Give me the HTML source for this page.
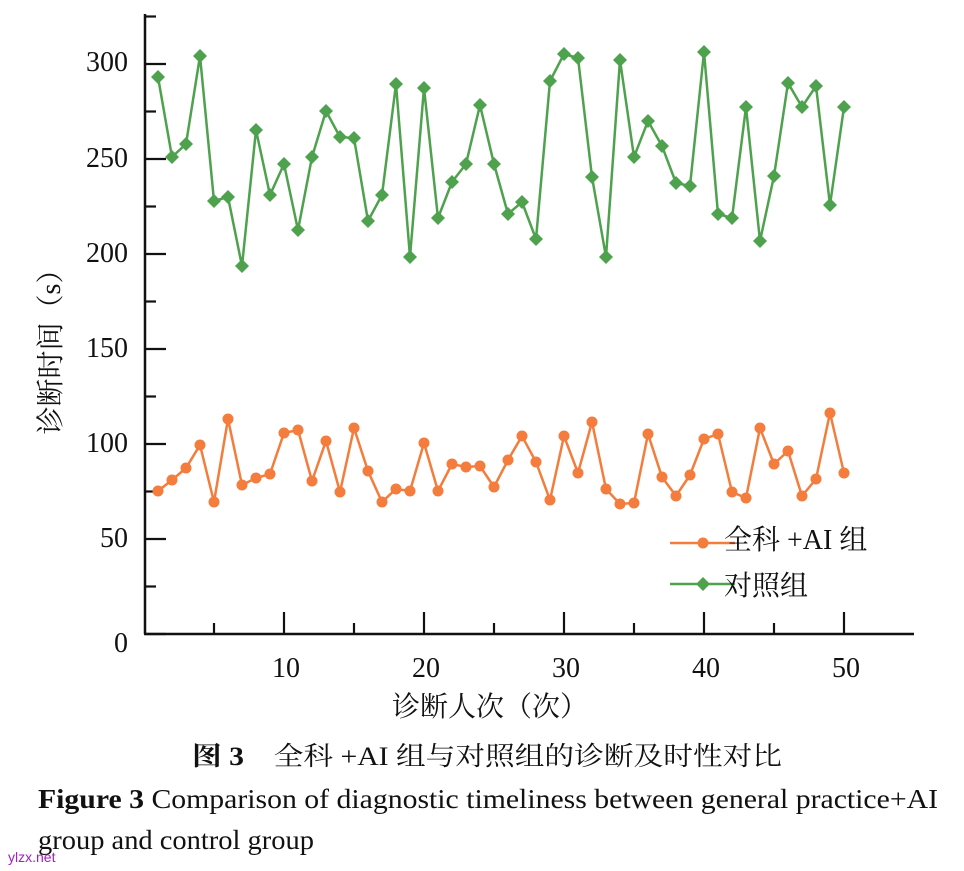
<!DOCTYPE html>
<html><head><meta charset="utf-8"><style>
body{margin:0;background:#fff;}
svg{display:block;}
text{font-family:"Liberation Serif","Noto Serif CJK SC",serif;fill:#111;}
</style></head><body>
<svg id="s" width="964" height="871" xmlns="http://www.w3.org/2000/svg">
<g stroke="#111" stroke-width="2.5" fill="none">
<line x1="145" y1="14" x2="145" y2="634"/>
<line x1="144" y1="634" x2="914" y2="634"/>
</g>
<g id="ticks" stroke="#111" stroke-width="2.2"></g>
<g font-size="28" text-anchor="end">
<text x="128" y="71">300</text><text x="128" y="167">250</text><text x="128" y="262">200</text>
<text x="128" y="357">150</text><text x="128" y="452">100</text><text x="128" y="547">50</text><text x="128" y="652">0</text>
</g>
<g font-size="28" text-anchor="middle">
<text x="286" y="677">10</text><text x="426" y="677">20</text><text x="566" y="677">30</text><text x="706" y="677">40</text><text x="846" y="677">50</text>
</g>
<text x="490" y="716" font-size="28" text-anchor="middle">诊断人次（次）</text>
<text transform="translate(60,345) rotate(-90)" font-size="28" text-anchor="middle">诊断时间（s）</text>
<g id="series"></g>
<line x1="670" y1="543" x2="735" y2="543" stroke="#f47c3c" stroke-width="2.5"/>
<circle cx="703" cy="543" r="5.5" fill="#f47c3c"/>
<text x="724" y="549" font-size="28">全科 +AI 组</text>
<line x1="670" y1="584" x2="735" y2="584" stroke="#4ea24e" stroke-width="2.5"/>
<path d="M703 577 L710 584 L703 591 L696 584Z" fill="#4ea24e"/>
<text x="724" y="595" font-size="28">对照组</text>
<text x="487" y="765" font-size="26" text-anchor="middle" textLength="590" lengthAdjust="spacingAndGlyphs"><tspan font-weight="bold">图 3</tspan>　全科 +AI 组与对照组的诊断及时性对比</text>
<text x="38" y="808" font-size="27" textLength="900" lengthAdjust="spacingAndGlyphs"><tspan font-weight="bold">Figure 3</tspan>    Comparison of diagnostic timeliness between general practice+AI</text>
<text x="38" y="849" font-size="27" textLength="276" lengthAdjust="spacingAndGlyphs">group and control group</text>
<text x="8" y="862" font-size="14" style="fill:#a020c0;font-family:'Liberation Sans',sans-serif">ylzx.net</text>
</svg>
<script>
var ns="http://www.w3.org/2000/svg",s=document.getElementById("series"),t=document.getElementById("ticks");
function el(n,a,p){var e=document.createElementNS(ns,n);for(var k in a)e.setAttribute(k,a[k]);p.appendChild(e);return e;}
for(var v=0;v<=325;v+=25){var y=634-v*1.9;if(y<15)break;el("line",{x1:145,x2:v%50==0?166:156,y1:y,y2:y},t);}
for(var i=5;i<=55;i+=5){var x=144+14*i;if(x>912)break;el("line",{x1:x,x2:x,y1:634,y2:i%10==0?612:623},t);}
var o=[491,480,468,445,502,419,485,478,474,433,430,481,441,492,428,471,502,489,491,443,491,464,467,466,487,460,436,462,500,436,473,422,489,504,503,434,477,496,475,439,434,492,498,428,464,451,496,479,413,473];
var g=[77,157,144,56,201,197,266,130,195,164,230,157,111,137,138,221,195,84,257,88,218,182,164,105,164,214,202,239,81,54,58,177,257,60,157,121,146,183,186,52,214,218,107,241,176,83,107,86,205,107];
function pts(a){return a.map(function(y,i){return (158+14*i)+","+y}).join(" ");}
el("polyline",{points:pts(o),fill:"none",stroke:"#f47c3c","stroke-width":2.5},s);
el("polyline",{points:pts(g),fill:"none",stroke:"#4ea24e","stroke-width":2.5},s);
o.forEach(function(y,i){el("circle",{cx:158+14*i,cy:y,r:5.5,fill:"#f47c3c"},s);});
g.forEach(function(y,i){var x=158+14*i;el("path",{d:"M"+x+" "+(y-7)+" L"+(x+7)+" "+y+" L"+x+" "+(y+7)+" L"+(x-7)+" "+y+"Z",fill:"#4ea24e"},s);});
</script>
</body></html>
